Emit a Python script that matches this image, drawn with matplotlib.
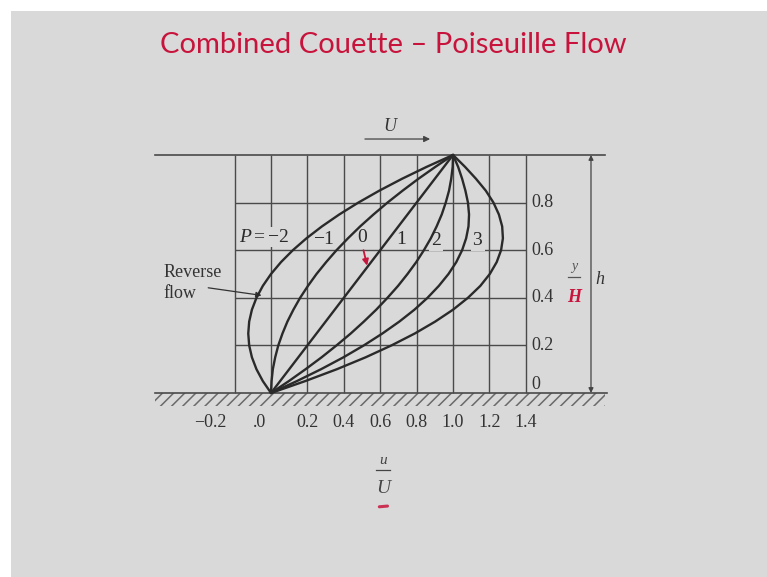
import matplotlib
matplotlib.use("Agg")
import matplotlib.pyplot as plt
from matplotlib.patches import Rectangle
import matplotlib.transforms as mtransforms

# ---- data -------------------------------------------------------------
# stations across the channel, y/h
y_h = [0.00, 0.05, 0.10, 0.15, 0.20, 0.25, 0.30, 0.35, 0.40, 0.45, 0.50,
       0.55, 0.60, 0.65, 0.70, 0.75, 0.80, 0.85, 0.90, 0.95, 1.00]

# velocity profiles u/U for each pressure-gradient parameter P
P_values = [-2, -1, 0, 1, 2, 3]
u_P_m2 = [0.000, -0.045, -0.080, -0.105, -0.120, -0.125, -0.120, -0.105, -0.080, -0.045, 0.000,
          0.055, 0.120, 0.195, 0.280, 0.375, 0.480, 0.595, 0.720, 0.855, 1.000]
u_P_m1 = [0.000, 0.003, 0.010, 0.023, 0.040, 0.063, 0.090, 0.123, 0.160, 0.203, 0.250,
          0.303, 0.360, 0.423, 0.490, 0.563, 0.640, 0.723, 0.810, 0.903, 1.000]
u_P_0 = [0.00, 0.05, 0.10, 0.15, 0.20, 0.25, 0.30, 0.35, 0.40, 0.45, 0.50,
         0.55, 0.60, 0.65, 0.70, 0.75, 0.80, 0.85, 0.90, 0.95, 1.00]
u_P_1 = [0.000, 0.098, 0.190, 0.278, 0.360, 0.438, 0.510, 0.578, 0.640, 0.698, 0.750,
         0.798, 0.840, 0.878, 0.910, 0.938, 0.960, 0.978, 0.990, 0.998, 1.000]
u_P_2 = [0.000, 0.142, 0.275, 0.398, 0.510, 0.612, 0.705, 0.788, 0.860, 0.922, 0.975,
         1.018, 1.050, 1.072, 1.085, 1.088, 1.082, 1.068, 1.050, 1.028, 1.000]
u_P_3 = [0.000, 0.188, 0.362, 0.520, 0.662, 0.790, 0.902, 1.000, 1.082, 1.150, 1.202,
         1.240, 1.264, 1.274, 1.270, 1.252, 1.222, 1.180, 1.126, 1.066, 1.000]
profiles = [u_P_m2, u_P_m1, u_P_0, u_P_1, u_P_2, u_P_3]
profile_labels = [r"$P = -2$", r"$-1$", r"$0$", r"$1$", r"$2$", r"$3$"]

x_ticks = [-0.2, 0.0, 0.2, 0.4, 0.6, 0.8, 1.0, 1.2, 1.4]
x_tick_labels = ["\u22120.2", ".0", "0.2", "0.4", "0.6", "0.8", "1.0", "1.2", "1.4"]
y_ticks = [0.0, 0.2, 0.4, 0.6, 0.8]
y_tick_labels = ["0", "0.2", "0.4", "0.6", "0.8"]

# ---- style ------------------------------------------------------------
plt.rcParams["font.family"] = ["Liberation Serif", "DejaVu Serif"]
plt.rcParams["mathtext.fontset"] = "custom"
plt.rcParams["mathtext.rm"] = "Liberation Serif"
plt.rcParams["mathtext.it"] = "Liberation Serif:italic"
plt.rcParams["hatch.linewidth"] = 1.1

BG = "#d9d9d9"
INK = "#2a2a2a"
GRID = "#4a4a4a"
RED = "#c8143c"

W, H = 767, 577
fig = plt.figure(figsize=(W / 100, H / 100), dpi=100)
fig.patch.set_facecolor(BG)

# thin white margin along the left and top edges
fig.add_artist(Rectangle((0, 0), 11 / W, 1, transform=fig.transFigure,
                         facecolor="white", edgecolor="none"))
fig.add_artist(Rectangle((0, 1 - 11 / H), 1, 11 / H, transform=fig.transFigure,
                         facecolor="white", edgecolor="none"))

ax = fig.add_axes([0, 0, 1, 1])
ax.set_facecolor("none")
ax.set_xlim(-1.489, 2.725)
ax.set_ylim(-0.773, 1.651)
ax.axis("off")

# grid
x_lo, x_hi = x_ticks[0], x_ticks[-1]
ax.vlines(x_ticks, 0, 1, color=GRID, lw=1.0, zorder=1)
ax.hlines(y_ticks[1:], x_lo, x_hi, color=GRID, lw=1.0, zorder=1)

# moving upper plate and fixed lower wall
ax.plot([-0.637, 1.835], [1, 1], color=GRID, lw=1.2, zorder=2)
ax.plot([-0.637, 1.845], [0, 0], color=GRID, lw=1.2, zorder=2)
ax.add_patch(Rectangle((-0.637, -0.055), 2.47, 0.055, facecolor="none",
                       edgecolor="#6a6a6a", hatch="///", lw=0, zorder=1))

# velocity profiles
for u in profiles:
    ax.plot(u, y_h, color=INK, lw=1.7, zorder=4, solid_capstyle="round")

# profile labels
label_pos = [(-0.038, 0.655), (0.29, 0.645), (0.505, 0.652),
             (0.714, 0.645), (0.907, 0.640), (1.137, 0.640)]
for txt, (lx, ly) in zip(profile_labels, label_pos):
    ax.text(lx, ly, txt, fontsize=14, color=INK, ha="center", va="center",
            zorder=3, bbox=dict(facecolor=BG, edgecolor="none", pad=1.0))

# red pen mark under the P = 0 label
ax.annotate("", xy=(0.528, 0.535), xytext=(0.508, 0.600),
            arrowprops=dict(arrowstyle="-|>", color=RED, lw=1.3,
                            mutation_scale=9, shrinkA=0, shrinkB=0), zorder=5)

# tick labels along the bottom
x_shift_px = [-24, -12, 0, 0, 0, 0, 0, 0, 0]
for xv, lab, dx in zip(x_ticks, x_tick_labels, x_shift_px):
    tr = mtransforms.offset_copy(ax.transData, fig=fig, x=dx * 0.72, y=0, units="points")
    ax.text(xv, -0.126, lab, transform=tr, fontsize=13, color="#333333",
            ha="center", va="center")

# tick labels on the right-hand side
for yv, lab in zip(y_ticks, y_tick_labels):
    ax.text(1.43, yv, lab, fontsize=13, color="#333333", ha="left",
            va="bottom" if yv == 0 else "center")

# channel height dimension
ax.annotate("", xy=(1.758, 1.0), xytext=(1.758, 0.0),
            arrowprops=dict(arrowstyle="<|-|>", color="#444444", lw=0.9,
                            mutation_scale=7, shrinkA=0, shrinkB=0))
ax.text(1.805, 0.475, "h", fontsize=13, style="italic", color="#333333",
        ha="center", va="center")

# y/H axis caption
ax.text(1.665, 0.530, "y", fontsize=10, style="italic", color="#555555",
        ha="center", va="center")
ax.plot([1.630, 1.700], [0.487, 0.487], color="#555555", lw=0.9)
ax.text(1.665, 0.400, "H", fontsize=13, style="italic", weight="bold",
        color=RED, ha="center", va="center")

# u/U axis caption
ax.text(0.615, -0.283, "u", fontsize=11, style="italic", color="#444444",
        ha="center", va="center")
ax.plot([0.578, 0.655], [-0.323, -0.323], color="#444444", lw=0.9)
ax.text(0.615, -0.400, "U", fontsize=14, style="italic", color="#444444",
        ha="center", va="center")
ax.plot([0.595, 0.640], [-0.478, -0.475], color=RED, lw=2.2, alpha=0.85,
        solid_capstyle="round")

# plate velocity
ax.annotate("", xy=(0.874, 1.067), xytext=(0.516, 1.067),
            arrowprops=dict(arrowstyle="-|>", color="#444444", lw=0.9,
                            mutation_scale=9, shrinkA=0, shrinkB=0))
ax.text(0.654, 1.118, "U", fontsize=13, style="italic", color="#333333",
        ha="center", va="center")

# reverse-flow callout
ax.text(-0.593, 0.462, "Reverse\nflow", fontsize=13, color="#333333",
        ha="left", va="center", linespacing=1.25)
ax.annotate("", xy=(-0.052, 0.410), xytext=(-0.345, 0.442),
            arrowprops=dict(arrowstyle="-|>", color="#333333", lw=0.9,
                            mutation_scale=8, shrinkA=0, shrinkB=0))

# title
fig.text(393 / W, 1 - 45 / H, "Combined Couette \u2013 Poiseuille Flow",
         fontsize=21, color=RED, ha="center", va="center",
         family=["Lato", "DejaVu Sans"])

fig.savefig("out.png", dpi=100, facecolor=fig.get_facecolor())
